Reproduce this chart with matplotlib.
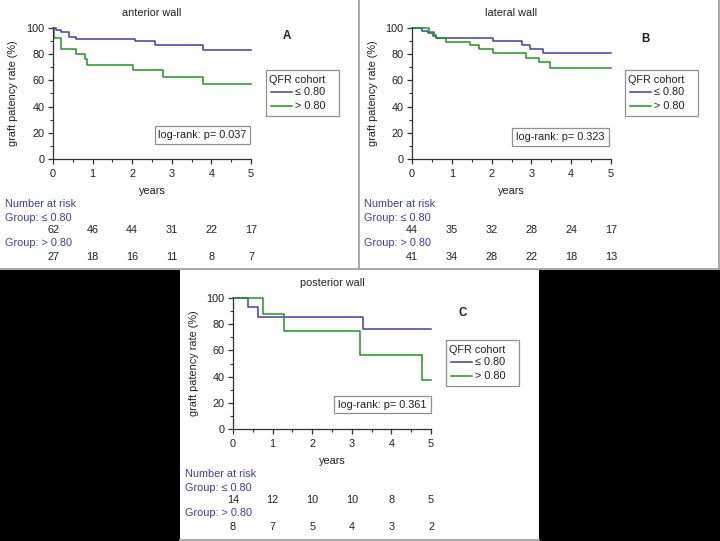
import matplotlib
matplotlib.use("Agg")
import matplotlib.pyplot as plt
from matplotlib.patches import Rectangle
from matplotlib.lines import Line2D
from matplotlib.ticker import MultipleLocator

plt.rcParams['font.family'] = ['Liberation Sans', 'DejaVu Sans']

W, H = 720, 541
BLUE = '#4040ac'
GREEN = '#1f961f'
TXTBLUE = '#3c3cb0'
FS = 7.8

# ---------------- data ----------------
years_ticks = [0, 1, 2, 3, 4, 5]
group_labels = ['\u2264 0.80', '> 0.80']

A_le_t = [0, 0.07, 0.19, 0.41, 0.57, 2.07, 2.58, 3.79]
A_le_s = [100, 98.4, 96.8, 93.5, 91.4, 89.8, 86.7, 83.2]
A_gt_t = [0, 0.02, 0.20, 0.58, 0.81, 0.86, 2.03, 2.77, 3.78]
A_gt_s = [100, 92.0, 84.0, 80.5, 76.0, 71.8, 67.8, 62.6, 57.0]
A_risk_le = [62, 46, 44, 31, 22, 17]
A_risk_gt = [27, 18, 16, 11, 8, 7]

B_le_t = [0, 0.24, 0.41, 0.54, 0.60, 2.03, 2.77, 2.96, 3.28]
B_le_s = [100, 97.7, 96.0, 94.0, 92.6, 90.2, 87.3, 83.8, 80.7]
B_gt_t = [0, 0.43, 0.55, 0.60, 0.85, 1.45, 1.68, 2.03, 2.87, 3.18, 3.46]
B_gt_s = [100, 97.3, 94.8, 92.1, 89.5, 87.2, 83.8, 80.8, 77.3, 74.0, 69.8]
B_risk_le = [44, 35, 32, 28, 24, 17]
B_risk_gt = [41, 34, 28, 22, 18, 13]

C_le_t = [0, 0.37, 0.62, 3.29]
C_le_s = [100, 92.9, 85.7, 76.2]
C_gt_t = [0, 0.77, 1.30, 3.21, 4.77]
C_gt_s = [100, 87.5, 75.0, 56.3, 37.5]
C_risk_le = [14, 12, 10, 10, 8, 5]
C_risk_gt = [8, 7, 5, 4, 3, 2]

follow_up_end = 5.0

fig = plt.figure(figsize=(W / 100, H / 100), dpi=100)
fig.patch.set_facecolor('white')


def fx(x):
    return x / W


def fy(y):
    return 1 - y / H


# background black areas and borders
fig.add_artist(Rectangle((fx(0), fy(H)), fx(180), fy(270) - fy(H), transform=fig.transFigure,
                         facecolor='black', edgecolor='none', zorder=0))
fig.add_artist(Rectangle((fx(539), fy(H)), fx(W - 539), fy(270) - fy(H), transform=fig.transFigure,
                         facecolor='black', edgecolor='none', zorder=0))
border = dict(color='#a0a0a0', lw=1.3, transform=fig.transFigure, zorder=1)
fig.add_artist(Line2D([fx(359), fx(359)], [fy(0), fy(269)], **border))
fig.add_artist(Line2D([fx(0), fx(W)], [fy(269), fy(269)], **border))
fig.add_artist(Line2D([fx(718.5), fx(718.5)], [fy(0), fy(269)], **border))
fig.add_artist(Line2D([fx(180), fx(539)], [fy(539.5), fy(539.5)], **border))


def panel(left, right, top, bottom, title, letter, letter_xy, legend_xy, lr_xy, pval,
          series, risk, risk_x, risk_y, ylab_x):
    ax = fig.add_axes([fx(left), fy(bottom), fx(right - left), fy(top) - fy(bottom)])
    ax.set_xlim(0, 5)
    ax.set_ylim(0, 100)
    for sp in ['top', 'right']:
        ax.spines[sp].set_visible(False)
    for sp in ['left', 'bottom']:
        ax.spines[sp].set_color('#303030')
        ax.spines[sp].set_linewidth(0.9)
    ax.set_xticks(years_ticks)
    ax.set_yticks([0, 20, 40, 60, 80, 100])
    ax.xaxis.set_minor_locator(MultipleLocator(0.5))
    ax.yaxis.set_minor_locator(MultipleLocator(10))
    ax.tick_params(which='major', length=3.5, width=0.9, color='#303030', labelsize=FS,
                   labelcolor='#202020')
    ax.tick_params(axis='x', which='major', pad=4)
    ax.tick_params(axis='y', which='major', pad=2.5)
    ax.tick_params(which='minor', length=2, width=0.8, color='#303030')
    ax.patch.set_alpha(0)
    for (t, s, c) in series:
        tt = list(t) + [follow_up_end]
        ss = list(s) + [s[-1]]
        ax.step(tt, ss, where='post', color=c, lw=1.1, clip_on=False)
    ax.set_xlabel('years', fontsize=FS, labelpad=5, color='#202020')
    fig.text(fx(ylab_x), fy((top + bottom) / 2), 'graft patency rate (%)', rotation=90,
             ha='center', va='center', fontsize=FS, color='#202020')
    fig.text(fx((left + right) / 2), fy(top - 15), title, ha='center', va='center',
             fontsize=FS, color='#202020')
    fig.text(fx(letter_xy[0]), fy(letter_xy[1]), letter, ha='center', va='center',
             fontsize=FS + 0.5, fontweight='bold', color='#202020')
    # legend
    lx, ly = legend_xy
    fig.add_artist(Rectangle((fx(lx), fy(ly + 46)), fx(73), fy(ly) - fy(ly + 46),
                             transform=fig.transFigure, facecolor='white',
                             edgecolor='#909090', lw=0.9))
    fig.text(fx(lx + 3), fy(ly + 10), 'QFR cohort', ha='left', va='center', fontsize=FS,
             color='#202020')
    for i, (lab, c) in enumerate(zip(group_labels, [BLUE, GREEN])):
        yy = ly + 22 + 14 * i
        fig.add_artist(Line2D([fx(lx + 5), fx(lx + 26)], [fy(yy), fy(yy)], color=c, lw=1.1,
                              transform=fig.transFigure))
        fig.text(fx(lx + 29), fy(yy), lab, ha='left', va='center', fontsize=FS, color='#202020')
    # log-rank box
    fig.text(fx(lr_xy[0]), fy(lr_xy[1]), 'log-rank: p= ' + pval, ha='center', va='center',
             fontsize=FS, color='#202020',
             bbox=dict(boxstyle='square,pad=0.35', facecolor='white', edgecolor='#909090', lw=0.9))
    # number at risk
    fig.text(fx(risk_x), fy(risk_y), 'Number at risk', ha='left', va='center', fontsize=FS,
             color=TXTBLUE)
    fig.text(fx(risk_x), fy(risk_y + 14), 'Group: \u2264 0.80', ha='left', va='center',
             fontsize=FS, color=TXTBLUE)
    fig.text(fx(risk_x), fy(risk_y + 39), 'Group: > 0.80', ha='left', va='center',
             fontsize=FS, color=TXTBLUE)
    inv = fig.transFigure.inverted()
    for row, dy in zip(risk, [26, 53]):
        for xv, n in zip(years_ticks, row):
            xf = inv.transform(ax.transData.transform((xv, 0)))[0]
            fig.text(xf, fy(risk_y + dy), str(n), ha='center', va='center',
                     fontsize=FS, color='#202020')
    return ax


panel(53, 251, 28, 159, 'anterior wall', 'A', (287, 36), (266, 70), (202.5, 135), '0.037',
      [(A_le_t, A_le_s, BLUE), (A_gt_t, A_gt_s, GREEN)], [A_risk_le, A_risk_gt], 5, 204, 13)
panel(412, 611, 28, 159, 'lateral wall', 'B', (645, 39), (625, 70), (560.5, 137), '0.323',
      [(B_le_t, B_le_s, BLUE), (B_gt_t, B_gt_s, GREEN)], [B_risk_le, B_risk_gt], 364, 204, 373)
panel(233, 431, 298, 429, 'posterior wall', 'C', (463, 313), (446, 340), (382.5, 404.5), '0.361',
      [(C_le_t, C_le_s, BLUE), (C_gt_t, C_gt_s, GREEN)], [C_risk_le, C_risk_gt], 185, 474, 194)

fig.savefig('out.png', dpi=100, facecolor='white')
